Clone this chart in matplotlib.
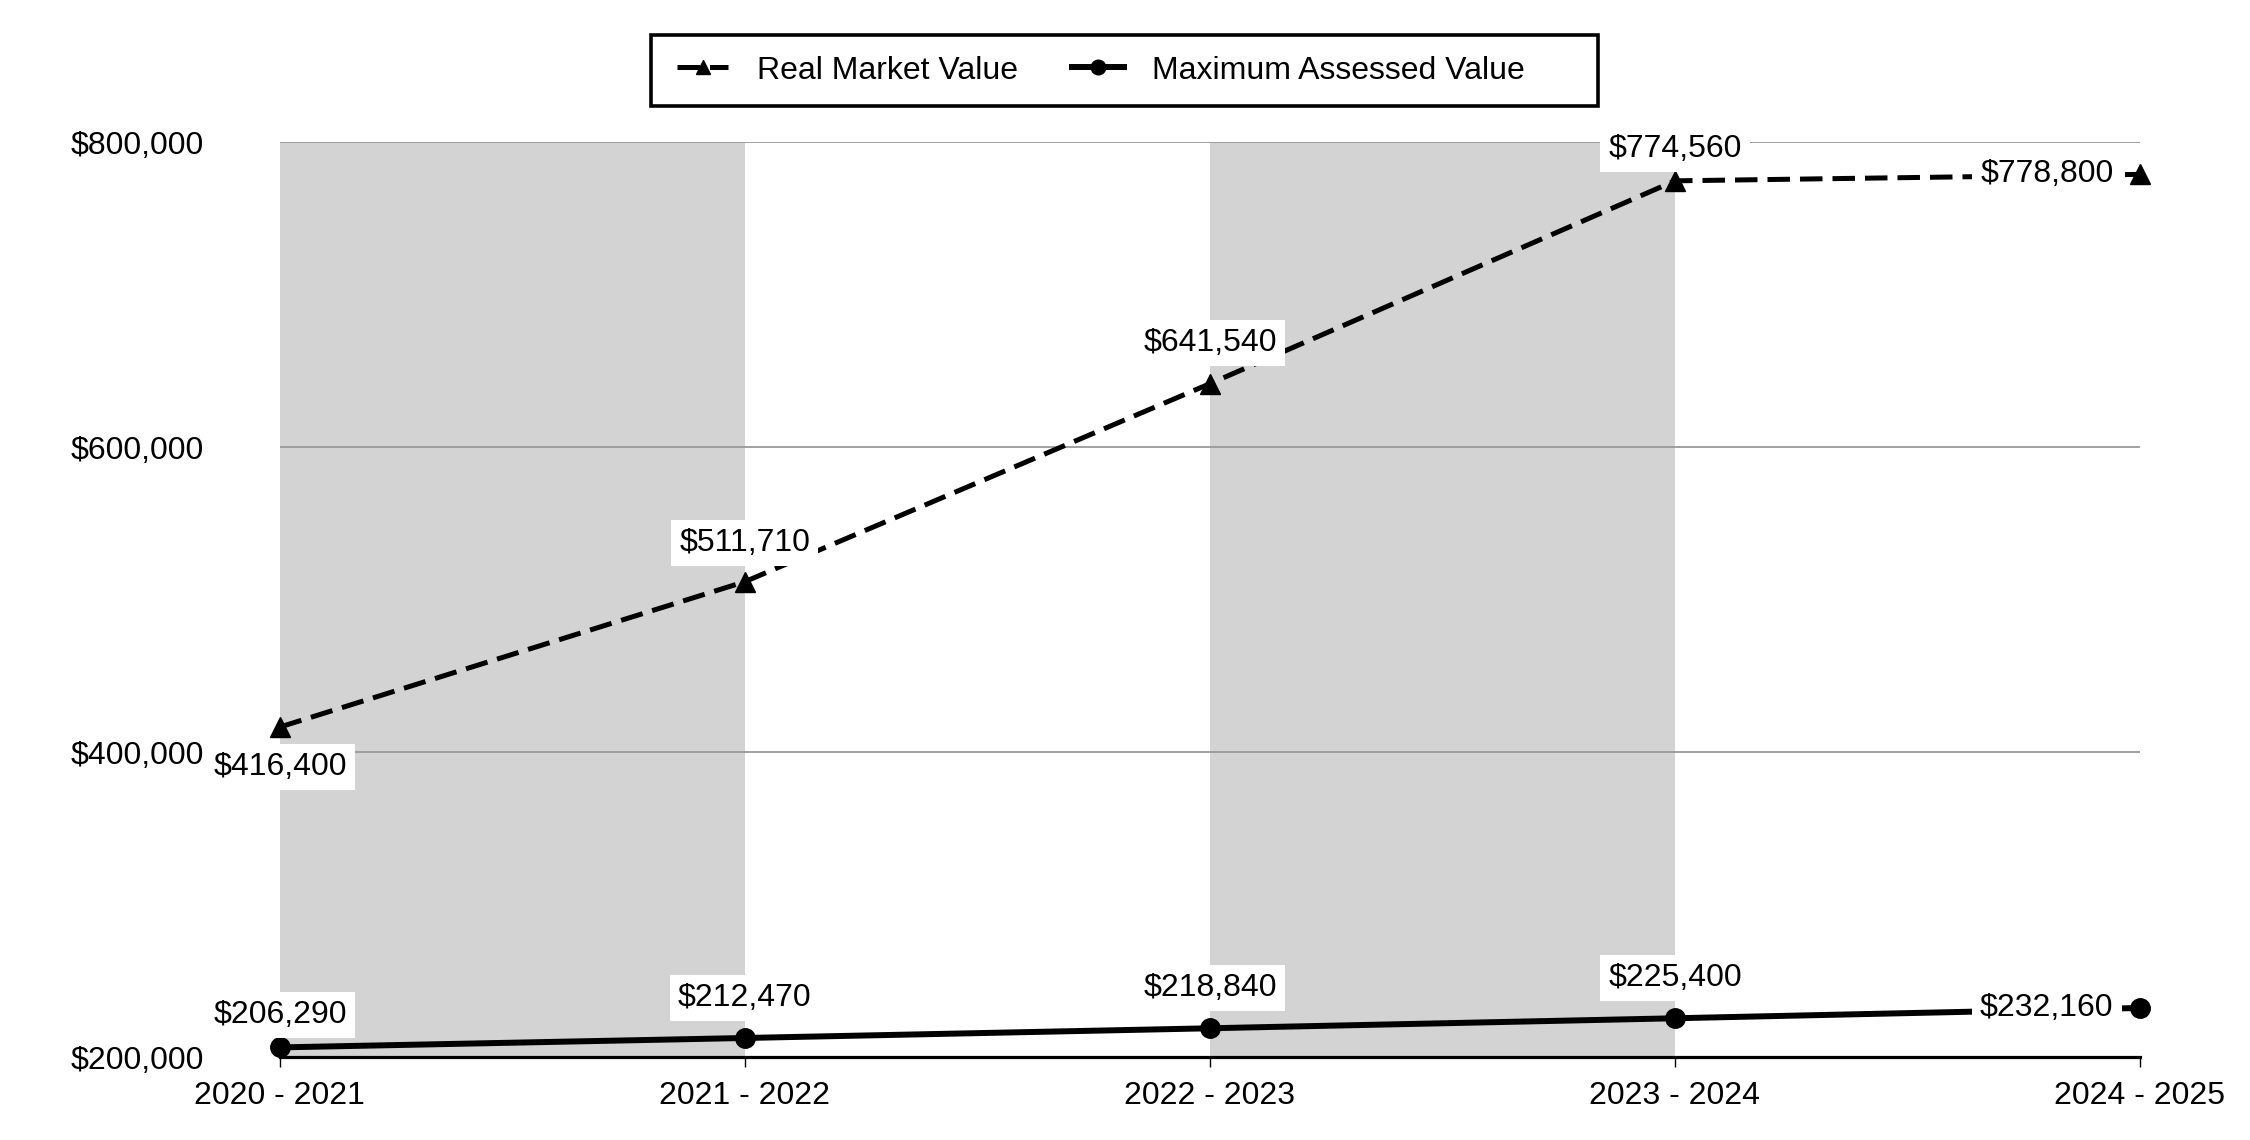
import matplotlib
matplotlib.use('Agg')
import matplotlib.pyplot as plt
from matplotlib.ticker import FuncFormatter
from matplotlib.patches import Rectangle

plt.rcParams['font.family'] = ['Liberation Sans', 'DejaVu Sans']

years = ['2020 - 2021', '2021 - 2022', '2022 - 2023', '2023 - 2024', '2024 - 2025']
real_market = [416400, 511710, 641540, 774560, 778800]
max_assessed = [206290, 212470, 218840, 225400, 232160]
y_ticks = [200000, 400000, 600000, 800000]

fs = 23
fig = plt.figure(figsize=(22.5, 11.4), dpi=100)
ax = fig.add_axes([0.1244, 0.0728, 0.9511 - 0.1244, 0.8754 - 0.0728])

x = list(range(len(years)))

# alternating grey bands
for i in range(0, len(years) - 1, 2):
    ax.axvspan(i, i + 1, color='#d3d3d3', zorder=0, lw=0)

line_r, = ax.plot(x, real_market, color='black', lw=3.6, dashes=(4.5, 2.0),
                  marker='^', markersize=14, clip_on=False, zorder=3,
                  label='Real Market Value')
line_m, = ax.plot(x, max_assessed, color='black', lw=4.3,
                  marker='o', markersize=14, clip_on=False, zorder=3,
                  label='Maximum Assessed Value')

box = dict(boxstyle='square,pad=0.25', fc='white', ec='none')

# label placement (offset points, horizontal alignment)
place_r = [(0, -29, 'center'), (0, 28, 'center'), (0, 29, 'center'),
           (0, 23, 'center'), (-19, 0, 'right')]
place_m = [(0, 23, 'center'), (0, 29, 'center'), (0, 29, 'center'),
           (0, 29, 'center'), (-19, 0, 'right')]

for vals, place in ((real_market, place_r), (max_assessed, place_m)):
    for xi, v, (dx, dy, ha) in zip(x, vals, place):
        ax.annotate(f'${v:,.0f}', (xi, v), xytext=(dx, dy),
                    textcoords='offset points', ha=ha, va='center',
                    fontsize=fs, bbox=box, zorder=4, annotation_clip=False)

ax.set_xlim(0, len(years) - 1)
ax.set_ylim(200000, 800000)
ax.set_xticks(x)
ax.set_xticklabels(years)
ax.set_yticks(y_ticks)
ax.yaxis.set_major_formatter(FuncFormatter(lambda v, p: f'${v:,.0f}'))

ax.set_axisbelow(True)
ax.yaxis.grid(True, color='#999999', lw=1.3)
ax.xaxis.grid(False)

for s in ('top', 'left', 'right'):
    ax.spines[s].set_visible(False)
ax.spines['bottom'].set_linewidth(2.3)
ax.spines['bottom'].set_color('black')

ax.tick_params(axis='x', length=7, width=1, pad=10, labelsize=fs)
ax.tick_params(axis='y', length=0, pad=55, labelsize=fs)

leg = fig.legend(handles=[line_r, line_m], loc='center',
                 bbox_to_anchor=(0.4894, 0.938), ncol=2, fontsize=fs,
                 frameon=False, handlelength=1.6, borderpad=0,
                 handletextpad=0.9, columnspacing=1.7, markerscale=0.75)

# frame drawn around the legend content, wider on the right
fig.canvas.draw()
bb = leg.get_window_extent().transformed(fig.transFigure.inverted())
W, H = fig.bbox.width, fig.bbox.height
pl, pr = 26 / W, 73 / W
ph = (71 / H - bb.height) / 2
fig.patches.append(Rectangle((bb.x0 - pl, bb.y0 - ph), bb.width + pl + pr,
                             bb.height + 2 * ph, transform=fig.transFigure,
                             fill=False, ec='black', lw=2.6))

fig.savefig('out.png', dpi=100)
